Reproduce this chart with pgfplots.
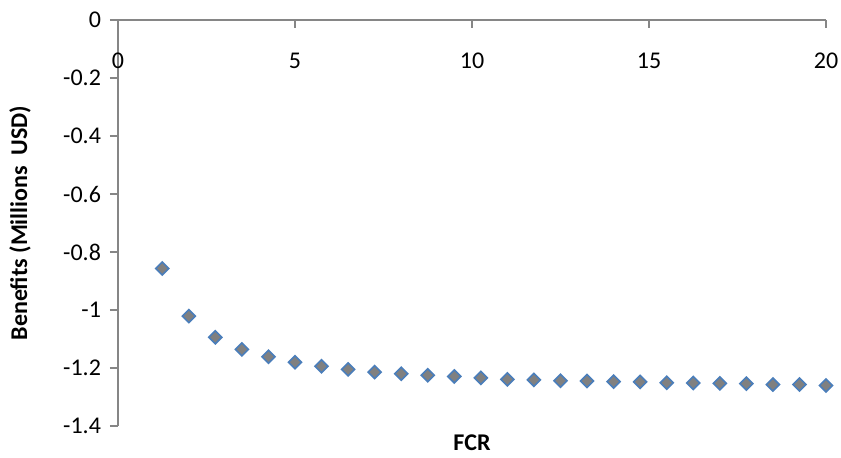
\documentclass[border=0pt]{standalone}
\usepackage{fontspec}
\setmainfont{Carlito}
\usepackage{pgfplots}
\pgfplotsset{compat=1.18}
\definecolor{axgray}{RGB}{134,134,134}
\definecolor{mkfill}{RGB}{128,128,128}
\definecolor{mkedge}{RGB}{74,126,187}
\begin{document}
\begin{tikzpicture}[font=\fontsize{12}{14}\selectfont]
\begin{axis}[name=ax, scale only axis, width=354pt, height=203pt,
  xmin=0, xmax=20, ymin=-1.4, ymax=0,
  axis x line*=top, axis y line*=left,
  xtick={0,5,10,15,20},
  ytick={-1.4,-1.2,-1,-0.8,-0.6,-0.4,-0.2,0},
  tick align=inside, major tick length=4pt,
  y tick style={xshift=-4pt},
  axis line style={axgray, line width=0.8pt},
  tick style={axgray, line width=0.8pt},
  xticklabel style={anchor=north, yshift=-13pt},
  yticklabel style={anchor=east, xshift=-5pt},
  /pgf/number format/assume math mode=true,
  tick label style={font=\fontsize{12}{14}\selectfont},
  ylabel={\textbf{Benefits (Millions\ \ USD)}},
  xlabel={\textbf{FCR}},
  ylabel style={at={(axis description cs:-0.1384,0.5)}, anchor=center},
  xlabel style={at={(axis description cs:0.5,0)}, anchor=center, yshift=-8.5pt},
  clip=false,
]
\addplot[only marks, mark=square*, mark size=2.3pt,
  mark options={rotate=45, fill=mkfill, draw=mkedge, line width=0.8pt}]
coordinates {
(1.25,-0.857) (2.00,-1.021) (2.75,-1.094) (3.50,-1.136) (4.25,-1.161)
(5.00,-1.180) (5.75,-1.194) (6.50,-1.205) (7.25,-1.214) (8.00,-1.220)
(8.75,-1.225) (9.50,-1.229) (10.25,-1.234) (11.00,-1.239) (11.75,-1.241)
(12.50,-1.244) (13.25,-1.245) (14.00,-1.247) (14.75,-1.248) (15.50,-1.251)
(16.25,-1.252) (17.00,-1.253) (17.75,-1.254) (18.50,-1.257) (19.25,-1.257)
(20.00,-1.260)
};
\end{axis}
\pgfresetboundingbox
\path ([shift={(-59pt,-15.5pt)}]ax.south west) rectangle ([shift={(7.5pt,10pt)}]ax.north east);
\end{tikzpicture}
\end{document}
